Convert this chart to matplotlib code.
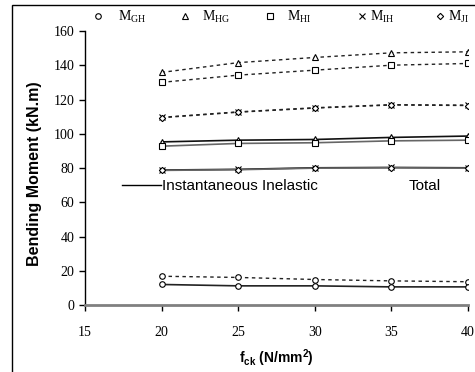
import matplotlib.pyplot as plt
from matplotlib.lines import Line2D
from matplotlib.patches import Rectangle

plt.rcParams['mathtext.fontset'] = 'custom'
plt.rcParams['mathtext.rm'] = 'Liberation Serif'
plt.rcParams['mathtext.bf'] = 'Liberation Sans:bold'

fck = [20, 25, 30, 35, 40]

# Total (dashed) and Instantaneous Inelastic (solid) bending moments, kN.m
gh_total = [17.0, 16.3, 15.1, 14.3, 13.8]
gh_inst = [12.2, 11.4, 11.4, 10.8, 10.8]
hg_total = [135.8, 141.5, 144.5, 147.2, 147.8]
hg_inst = [95.3, 96.3, 96.7, 97.9, 98.7]
hi_total = [130.0, 134.2, 137.1, 140.0, 141.0]
hi_inst = [92.8, 94.4, 94.8, 95.9, 96.3]
ih_total = [109.6, 112.8, 115.2, 117.0, 116.7]
ih_inst = [78.9, 79.3, 80.2, 80.4, 80.2]
ji_total = [109.4, 112.6, 115.0, 116.8, 116.5]
ji_inst = [78.7, 79.1, 80.0, 80.2, 80.0]

names = ['GH', 'HG', 'HI', 'IH', 'JI']
markers = ['o', '^', 's', 'x', 'D']
totals = [gh_total, hg_total, hi_total, ih_total, ji_total]
insts = [gh_inst, hg_inst, hi_inst, ih_inst, ji_inst]
inst_colors = ['#222222', '#111111', '#666666', '#111111', '#666666']

fig = plt.figure(figsize=(4.75, 3.72), dpi=100)
ax = fig.add_axes([0.179, 0.179, 0.806, 0.738])

dash = (0, (2.5, 2.5))
for name, m, tot, ins, c in zip(names, markers, totals, insts, inst_colors):
    ms = 3.2 if m == 'D' else 4
    ax.plot(fck, tot, linestyle=dash, color='#222222', lw=1, marker=m, ms=ms,
            mfc='white', mec='black', mew=0.8)
    ax.plot(fck, ins, linestyle='-', color=c, lw=1.2, marker=m, ms=ms,
            mfc='white', mec='black', mew=0.8)

ax.set_xlim(15, 40)
ax.set_ylim(0, 160)
ax.set_xticks([15, 20, 25, 30, 35, 40])
ax.set_yticks(range(0, 161, 20))
for lab in ax.get_xticklabels() + ax.get_yticklabels():
    lab.set_family('Liberation Serif')
    lab.set_fontsize(10)
ax.tick_params(axis='both', direction='out', length=4, width=1, color='black')
ax.tick_params(axis='x', pad=11)

ax.spines['top'].set_visible(False)
ax.spines['right'].set_visible(False)
ax.spines['bottom'].set_color('#808080')
ax.spines['bottom'].set_linewidth(2)
ax.spines['left'].set_linewidth(1)

ax.set_ylabel('Bending Moment (kN.m)', family='Liberation Sans', weight='bold',
              fontsize=11.5)
ax.yaxis.set_label_coords(-0.112, 0.479)
ax.set_xlabel(r'$\mathbf{f}_{\mathbf{ck}}$ (N/mm$^{\mathbf{2}}$)',
              family='Liberation Sans', weight='bold', fontsize=10, labelpad=6)

# marker legend on top, one entry at a time
key_x = [91, 178, 263, 355, 433]
key_pad = [0.94, 0.72, 0.72, 0.1, 0.05]
for m, n, kx, kp in zip(markers, names, key_x, key_pad):
    h = Line2D([], [], linestyle='none', marker=m,
               ms=3.2 if m == 'D' else 4, mfc='white', mec='black', mew=0.8)
    lg = fig.legend([h], [r'$\mathrm{M}_{\mathrm{%s}}$' % n], loc='center left',
                    frameon=False, bbox_to_anchor=(kx / 475, 0.954), fontsize=10,
                    handlelength=1.0, handletextpad=kp, borderpad=0,
                    borderaxespad=0)

# line style legend
h_inst = Line2D([], [], color='black', lw=1)
h_tot = Line2D([], [], color='white', lw=1)
ax.legend([h_inst, h_tot], ['Instantaneous Inelastic', 'Total'],
          loc='center left', bbox_to_anchor=(0.076, 0.435), ncol=2,
          frameon=False, prop={'family': 'Liberation Sans', 'size': 11},
          handlelength=2.55, handletextpad=0.1, columnspacing=3.25, borderpad=0)

fig.patches.append(Rectangle((12 / 475, -0.1), 1.2, 1.1 - 5 / 372,
                             transform=fig.transFigure, fill=False,
                             edgecolor='black', lw=1))

fig.savefig('out.png', dpi=100)
